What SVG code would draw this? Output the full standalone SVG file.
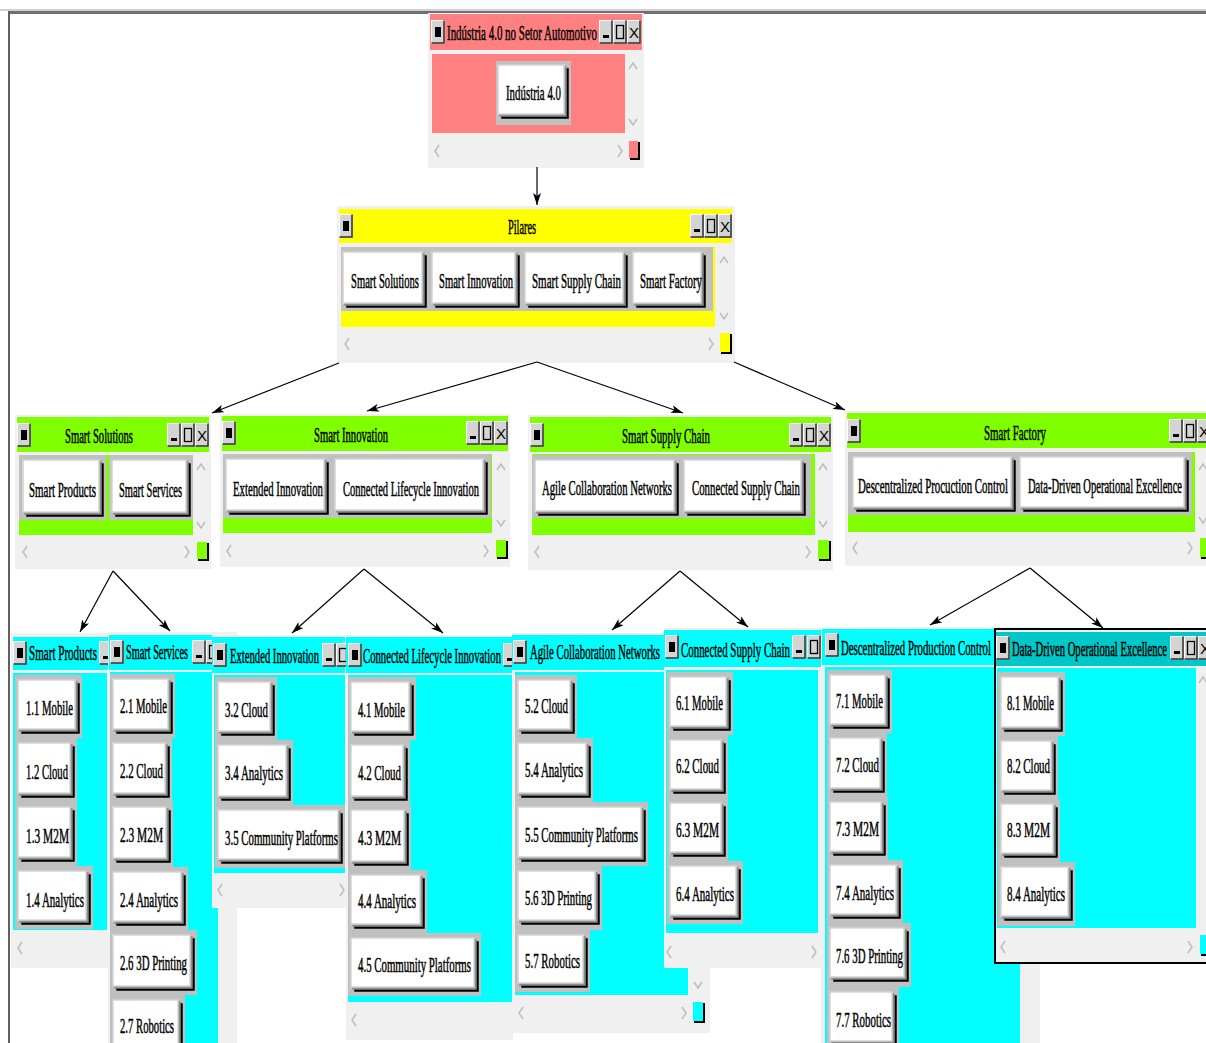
<svg xmlns="http://www.w3.org/2000/svg" xmlns:xlink="http://www.w3.org/1999/xlink" width="1206" height="1043" viewBox="0 0 1206 1043">
<style>
.fr{fill:#f0f0f0}
.pk{fill:#ff8080}
.yl{fill:#ffff00}
.gr{fill:#80ff00}
.cy{fill:#00ffff}
.cya{fill:#00c8c8}
.pn{fill:#c0c0c0}
.bt{fill:#fff;stroke:#d4d4d4;stroke-width:1.5;filter:url(#bsh)}
.sa{fill:none;stroke:#bcbcbc;stroke-width:1.5}
.t{font-family:"Liberation Serif","Times New Roman",serif;font-size:21px;fill:#000;stroke:#000;stroke-width:0.5}
.sq{fill:#000}
#connectors line{stroke:#000;stroke-width:1.2;marker-end:url(#ah)}
</style>
<defs>
<filter id="bsh" x="-10%" y="-10%" width="130%" height="140%" color-interpolation-filters="sRGB">
<feFlood flood-color="#000"/>
<feComposite in2="SourceAlpha" operator="in"/>
<feOffset dx="4" dy="4" result="k"/>
<feFlood flood-color="#8c8c8c"/>
<feComposite in2="SourceAlpha" operator="in"/>
<feOffset dx="2" dy="2" result="g"/>
<feMerge><feMergeNode in="k"/><feMergeNode in="g"/><feMergeNode in="SourceGraphic"/></feMerge>
</filter>
<marker id="ah" viewBox="0 0 12 8" refX="12" refY="4" markerWidth="12" markerHeight="8" orient="auto" markerUnits="userSpaceOnUse">
<path d="M0,0 L12,4 L0,8 L3,4 z" fill="#000"/>
</marker>
<g id="bb"><rect width="14" height="24" fill="#d4d4d4"/><path d="M0.5 23.5V0.5H13" stroke="#fff" fill="none"/><path d="M0.5 23H13V0.5" stroke="#303030" stroke-width="1.5" fill="none"/></g>
<g id="bL"><use href="#bb"/><rect x="4" y="7" width="6" height="10" fill="#000"/></g>
<g id="bMin"><use href="#bb"/><rect x="4" y="15" width="6" height="3" fill="#000"/></g>
<g id="bMax"><use href="#bb"/><rect x="3.5" y="5.5" width="7" height="13" fill="none" stroke="#000" stroke-width="1.3"/></g>
<g id="bX"><use href="#bb"/><text x="7" y="18" text-anchor="middle" font-family="Liberation Sans, Arial, sans-serif" font-size="15" fill="#000">X</text></g>
</defs>
<rect width="1206" height="1043" fill="#fff"/>
<g id="frame">
<rect x="0" y="9" width="1206" height="2" fill="#d0d0d0"/>
<rect x="8" y="11" width="1198" height="3" fill="#707070"/>
<rect x="8" y="11" width="2" height="1032" fill="#606060"/>
</g>

<g id="n-industria">
<rect class="fr" x="428" y="13" width="216" height="155"/>
<rect class="pk" x="430" y="14" width="212" height="36"/>
<use href="#bL" x="431" y="20"/>
<text class="t" transform="matrix(0.5 0 0 1 447 40)" textLength="300" lengthAdjust="spacingAndGlyphs">Indústria 4.0 no Setor Automotivo</text>
<use href="#bMin" x="599" y="20"/><use href="#bMax" x="613" y="20"/><use href="#bX" x="627" y="20"/>
<rect class="pk" x="432" y="54" width="193" height="79"/>
<rect class="pn" x="496" y="61" width="75" height="64"/>
<rect class="bt" x="498" y="65" width="66" height="49"/>
<text class="t" transform="matrix(0.5 0 0 1 506 100)" textLength="110" lengthAdjust="spacingAndGlyphs">Indústria 4.0</text>
<polyline class="sa" points="629,69 633,63 637,69"/>
<polyline class="sa" points="629,119 633,125 637,119"/>
<polyline class="sa" points="439,145 435,151 439,157"/>
<polyline class="sa" points="618,145 622,151 618,157"/>
<rect class="sq" x="630" y="142" width="10" height="18"/><rect class="pk" x="629" y="141" width="9" height="17"/>
</g>

<g id="n-pilares">
<rect class="fr" x="337" y="206" width="398" height="157"/>
<rect class="yl" x="339" y="209" width="393" height="34"/>
<use href="#bL" x="339" y="214"/>
<text class="t" transform="matrix(0.5 0 0 1 508 234)" textLength="56" lengthAdjust="spacingAndGlyphs">Pilares</text>
<use href="#bMin" x="690" y="214"/><use href="#bMax" x="704" y="214"/><use href="#bX" x="718" y="214"/>
<rect class="yl" x="341" y="247" width="374" height="80"/>
<rect class="pn" x="341" y="247" width="372" height="64"/>
<rect class="bt" x="343" y="252" width="79" height="51"/>
<rect class="bt" x="432" y="252" width="83" height="51"/>
<rect class="bt" x="525" y="252" width="98" height="51"/>
<rect class="bt" x="633" y="252" width="68" height="51"/>
<text class="t" transform="matrix(0.5 0 0 1 351 288)" textLength="136" lengthAdjust="spacingAndGlyphs">Smart Solutions</text>
<text class="t" transform="matrix(0.5 0 0 1 439 288)" textLength="148" lengthAdjust="spacingAndGlyphs">Smart Innovation</text>
<text class="t" transform="matrix(0.5 0 0 1 532 288)" textLength="178" lengthAdjust="spacingAndGlyphs">Smart Supply Chain</text>
<text class="t" transform="matrix(0.5 0 0 1 640 288)" textLength="124" lengthAdjust="spacingAndGlyphs">Smart Factory</text>
<polyline class="sa" points="720,263 724,257 728,263"/>
<polyline class="sa" points="720,313 724,319 728,313"/>
<polyline class="sa" points="349,338 345,344 349,350"/>
<polyline class="sa" points="709,338 713,344 709,350"/>
<rect class="sq" x="721" y="334" width="11" height="20"/><rect class="yl" x="720" y="333" width="10" height="19"/>
</g>

<g id="n-smart-solutions">
<rect class="fr" x="15" y="415" width="196" height="154"/>
<rect class="gr" x="17" y="417" width="192" height="35"/>
<use href="#bL" x="17" y="423"/>
<text class="t" transform="matrix(0.5 0 0 1 65 443)" textLength="136" lengthAdjust="spacingAndGlyphs">Smart Solutions</text>
<use href="#bMin" x="167" y="423"/><use href="#bMax" x="181" y="423"/><use href="#bX" x="195" y="423"/>
<rect class="gr" x="19" y="455" width="174" height="80"/>
<rect class="pn" x="19" y="455" width="87" height="65"/>
<rect class="pn" x="109" y="455" width="84" height="65"/>
<rect class="bt" x="23" y="460" width="76" height="52"/>
<rect class="bt" x="112" y="460" width="74" height="52"/>
<text class="t" transform="matrix(0.5 0 0 1 29 497)" textLength="134" lengthAdjust="spacingAndGlyphs">Smart Products</text>
<text class="t" transform="matrix(0.5 0 0 1 119 497)" textLength="126" lengthAdjust="spacingAndGlyphs">Smart Services</text>
<polyline class="sa" points="197,470 201,464 205,470"/>
<polyline class="sa" points="197,522 201,528 205,522"/>
<polyline class="sa" points="27,546 23,552 27,558"/>
<polyline class="sa" points="185,546 189,552 185,558"/>
<rect class="sq" x="198" y="543" width="11" height="18"/><rect class="gr" x="197" y="542" width="10" height="17"/>
</g>

<g id="n-smart-innovation">
<rect class="fr" x="220" y="414" width="290" height="153"/>
<rect class="gr" x="222" y="416" width="286" height="35"/>
<use href="#bL" x="222" y="421"/>
<text class="t" transform="matrix(0.5 0 0 1 314 442)" textLength="148" lengthAdjust="spacingAndGlyphs">Smart Innovation</text>
<use href="#bMin" x="466" y="421"/><use href="#bMax" x="480" y="421"/><use href="#bX" x="494" y="421"/>
<rect class="gr" x="223" y="454" width="269" height="79"/>
<rect class="pn" x="223" y="454" width="268" height="64"/>
<rect class="bt" x="226" y="459" width="98" height="51"/>
<rect class="bt" x="335" y="459" width="148" height="51"/>
<text class="t" transform="matrix(0.5 0 0 1 233 496)" textLength="180" lengthAdjust="spacingAndGlyphs">Extended Innovation</text>
<text class="t" transform="matrix(0.5 0 0 1 343 496)" textLength="272" lengthAdjust="spacingAndGlyphs">Connected Lifecycle Innovation</text>
<polyline class="sa" points="497,470 501,464 505,470"/>
<polyline class="sa" points="497,520 501,526 505,520"/>
<polyline class="sa" points="231,545 227,551 231,557"/>
<polyline class="sa" points="484,545 488,551 484,557"/>
<rect class="sq" x="497" y="541" width="11" height="18"/><rect class="gr" x="496" y="540" width="10" height="17"/>
</g>

<g id="n-smart-supply-chain">
<rect class="fr" x="528" y="415" width="305" height="155"/>
<rect class="gr" x="530" y="417" width="301" height="35"/>
<use href="#bL" x="530" y="423"/>
<text class="t" transform="matrix(0.5 0 0 1 622 443)" textLength="176" lengthAdjust="spacingAndGlyphs">Smart Supply Chain</text>
<use href="#bMin" x="789" y="423"/><use href="#bMax" x="803" y="423"/><use href="#bX" x="817" y="423"/>
<rect class="gr" x="532" y="454" width="283" height="81"/>
<rect class="pn" x="532" y="455" width="279" height="63"/>
<rect class="bt" x="535" y="460" width="139" height="51"/>
<rect class="bt" x="684" y="460" width="117" height="51"/>
<text class="t" transform="matrix(0.5 0 0 1 542 495)" textLength="260" lengthAdjust="spacingAndGlyphs">Agile Collaboration Networks</text>
<text class="t" transform="matrix(0.5 0 0 1 692 495)" textLength="216" lengthAdjust="spacingAndGlyphs">Connected Supply Chain</text>
<polyline class="sa" points="819,470 823,464 827,470"/>
<polyline class="sa" points="819,521 823,527 827,521"/>
<polyline class="sa" points="539,546 535,552 539,558"/>
<polyline class="sa" points="806,546 810,552 806,558"/>
<rect class="sq" x="819" y="541" width="12" height="20"/><rect class="gr" x="818" y="540" width="11" height="19"/>
</g>

<g id="n-smart-factory">
<rect class="fr" x="845" y="411" width="361" height="155"/>
<rect class="gr" x="847" y="413" width="359" height="35"/>
<use href="#bL" x="847" y="419"/>
<text class="t" transform="matrix(0.5 0 0 1 984 440)" textLength="124" lengthAdjust="spacingAndGlyphs">Smart Factory</text>
<use href="#bMin" x="1169" y="419"/><use href="#bMax" x="1183" y="419"/><use href="#bX" x="1197" y="419"/>
<rect class="gr" x="848" y="452" width="347" height="80"/>
<rect class="pn" x="848" y="452" width="344" height="63"/>
<rect class="bt" x="853" y="457" width="158" height="50"/>
<rect class="bt" x="1020" y="457" width="164" height="50"/>
<text class="t" transform="matrix(0.5 0 0 1 858 493)" textLength="300" lengthAdjust="spacingAndGlyphs">Descentralized Procuction Control</text>
<text class="t" transform="matrix(0.5 0 0 1 1028 493)" textLength="308" lengthAdjust="spacingAndGlyphs">Data-Driven Operational Excellence</text>
<polyline class="sa" points="1199,470 1203,464 1207,470"/>
<polyline class="sa" points="1199,517 1203,523 1207,517"/>
<polyline class="sa" points="857,542 853,548 857,554"/>
<polyline class="sa" points="1188,542 1192,548 1188,554"/>
<rect class="sq" x="1201" y="539" width="6" height="20"/><rect class="gr" x="1200" y="538" width="6" height="19"/>
</g>

<g id="n-smart-products">
<rect class="fr" x="11" y="633" width="97" height="335"/>
<rect class="cy" x="13" y="637" width="95" height="33"/>
<use href="#bL" x="13" y="641"/>
<text class="t" transform="matrix(0.5 0 0 1 29 660)" textLength="136" lengthAdjust="spacingAndGlyphs">Smart Products</text>
<use href="#bMin" x="99" y="641"/>
<rect class="cy" x="13" y="673" width="94" height="257"/>
<rect class="pn" x="15" y="675" width="67" height="63"/>
<rect class="pn" x="15" y="738" width="62" height="64"/>
<rect class="pn" x="15" y="802" width="62" height="64"/>
<rect class="pn" x="15" y="866" width="78" height="63"/>
<rect class="bt" x="18" y="680" width="57" height="49"/>
<rect class="bt" x="18" y="743" width="52" height="50"/>
<rect class="bt" x="18" y="807" width="52" height="50"/>
<rect class="bt" x="18" y="871" width="68" height="49"/>
<text class="t" transform="matrix(0.5 0 0 1 26 715)" textLength="94" lengthAdjust="spacingAndGlyphs">1.1 Mobile</text>
<text class="t" transform="matrix(0.5 0 0 1 26 779)" textLength="84" lengthAdjust="spacingAndGlyphs">1.2 Cloud</text>
<text class="t" transform="matrix(0.5 0 0 1 26 843)" textLength="86" lengthAdjust="spacingAndGlyphs">1.3 M2M</text>
<text class="t" transform="matrix(0.5 0 0 1 26 907)" textLength="116" lengthAdjust="spacingAndGlyphs">1.4 Analytics</text>
<polyline class="sa" points="22,942 18,948 22,954"/>
</g>

<g id="n-smart-services">
<rect class="fr" x="108" y="632" width="129" height="411"/>
<rect class="cy" x="109" y="635" width="128" height="35"/>
<use href="#bL" x="110" y="640"/>
<text class="t" transform="matrix(0.5 0 0 1 126 659)" textLength="124" lengthAdjust="spacingAndGlyphs">Smart Services</text>
<use href="#bMin" x="192" y="640"/><use href="#bMax" x="206" y="640"/>
<rect class="cy" x="110" y="672" width="108" height="371"/>
<rect class="pn" x="110" y="674" width="65" height="64"/>
<rect class="pn" x="110" y="738" width="62" height="64"/>
<rect class="pn" x="110" y="802" width="63" height="65"/>
<rect class="pn" x="110" y="867" width="78" height="63"/>
<rect class="pn" x="110" y="930" width="87" height="65"/>
<rect class="pn" x="110" y="995" width="75" height="60"/>
<rect class="bt" x="113" y="679" width="55" height="50"/>
<rect class="bt" x="113" y="743" width="52" height="50"/>
<rect class="bt" x="113" y="807" width="53" height="51"/>
<rect class="bt" x="113" y="872" width="68" height="49"/>
<rect class="bt" x="113" y="935" width="77" height="51"/>
<rect class="bt" x="113" y="1000" width="65" height="49"/>
<text class="t" transform="matrix(0.5 0 0 1 120 713)" textLength="94" lengthAdjust="spacingAndGlyphs">2.1 Mobile</text>
<text class="t" transform="matrix(0.5 0 0 1 120 778)" textLength="86" lengthAdjust="spacingAndGlyphs">2.2 Cloud</text>
<text class="t" transform="matrix(0.5 0 0 1 120 842)" textLength="86" lengthAdjust="spacingAndGlyphs">2.3 M2M</text>
<text class="t" transform="matrix(0.5 0 0 1 120 907)" textLength="116" lengthAdjust="spacingAndGlyphs">2.4 Analytics</text>
<text class="t" transform="matrix(0.5 0 0 1 120 970)" textLength="134" lengthAdjust="spacingAndGlyphs">2.6 3D Printing</text>
<text class="t" transform="matrix(0.5 0 0 1 120 1033)" textLength="108" lengthAdjust="spacingAndGlyphs">2.7 Robotics</text>
</g>

<g id="n-extended-innovation">
<rect class="fr" x="212" y="635" width="134" height="273"/>
<rect class="cy" x="212" y="637" width="133" height="36"/>
<use href="#bL" x="213" y="643"/>
<text class="t" transform="matrix(0.5 0 0 1 230 663)" textLength="178" lengthAdjust="spacingAndGlyphs">Extended Innovation</text>
<use href="#bMin" x="322" y="643"/><use href="#bMax" x="336" y="643"/>
<rect class="cy" x="214" y="675" width="131" height="198"/>
<rect class="pn" x="215" y="677" width="62" height="63"/>
<rect class="pn" x="215" y="740" width="78" height="65"/>
<rect class="pn" x="215" y="805" width="130" height="63"/>
<rect class="bt" x="218" y="682" width="52" height="49"/>
<rect class="bt" x="218" y="745" width="68" height="51"/>
<rect class="bt" x="218" y="810" width="120" height="49"/>
<text class="t" transform="matrix(0.5 0 0 1 225 717)" textLength="86" lengthAdjust="spacingAndGlyphs">3.2 Cloud</text>
<text class="t" transform="matrix(0.5 0 0 1 225 780)" textLength="116" lengthAdjust="spacingAndGlyphs">3.4 Analytics</text>
<text class="t" transform="matrix(0.5 0 0 1 225 845)" textLength="226" lengthAdjust="spacingAndGlyphs">3.5 Community Platforms</text>
<polyline class="sa" points="222,884 218,890 222,896"/>
<polyline class="sa" points="340,884 344,890 340,896"/>
</g>

<g id="n-connected-lifecycle-innovation">
<rect class="fr" x="346" y="635" width="167" height="405"/>
<rect class="cy" x="346" y="637" width="166" height="36"/>
<use href="#bL" x="348" y="643"/>
<text class="t" transform="matrix(0.5 0 0 1 363 663)" textLength="276" lengthAdjust="spacingAndGlyphs">Connected Lifecycle Innovation</text>
<use href="#bMin" x="503" y="643"/>
<rect class="cy" x="348" y="675" width="164" height="327"/>
<rect class="pn" x="348" y="677" width="68" height="63"/>
<rect class="pn" x="348" y="740" width="62" height="65"/>
<rect class="pn" x="348" y="805" width="63" height="65"/>
<rect class="pn" x="348" y="870" width="79" height="63"/>
<rect class="pn" x="348" y="933" width="133" height="63"/>
<rect class="bt" x="351" y="682" width="58" height="49"/>
<rect class="bt" x="351" y="745" width="52" height="51"/>
<rect class="bt" x="351" y="810" width="53" height="51"/>
<rect class="bt" x="351" y="875" width="69" height="49"/>
<rect class="bt" x="351" y="938" width="123" height="49"/>
<text class="t" transform="matrix(0.5 0 0 1 358 717)" textLength="94" lengthAdjust="spacingAndGlyphs">4.1 Mobile</text>
<text class="t" transform="matrix(0.5 0 0 1 358 780)" textLength="86" lengthAdjust="spacingAndGlyphs">4.2 Cloud</text>
<text class="t" transform="matrix(0.5 0 0 1 358 845)" textLength="86" lengthAdjust="spacingAndGlyphs">4.3 M2M</text>
<text class="t" transform="matrix(0.5 0 0 1 358 908)" textLength="116" lengthAdjust="spacingAndGlyphs">4.4 Analytics</text>
<text class="t" transform="matrix(0.5 0 0 1 358 972)" textLength="226" lengthAdjust="spacingAndGlyphs">4.5 Community Platforms</text>
<polyline class="sa" points="356,1014 352,1020 356,1026"/>
</g>

<g id="n-agile-collaboration-networks">
<rect class="fr" x="512" y="633" width="198" height="400"/>
<rect class="cy" x="512" y="635" width="196" height="35"/>
<use href="#bL" x="513" y="640"/>
<text class="t" transform="matrix(0.5 0 0 1 530 659)" textLength="260" lengthAdjust="spacingAndGlyphs">Agile Collaboration Networks</text>
<rect class="cy" x="515" y="672" width="173" height="323"/>
<rect class="pn" x="515" y="675" width="62" height="63"/>
<rect class="pn" x="515" y="738" width="78" height="64"/>
<rect class="pn" x="515" y="802" width="133" height="64"/>
<rect class="pn" x="515" y="866" width="87" height="64"/>
<rect class="pn" x="515" y="930" width="75" height="62"/>
<rect class="bt" x="518" y="680" width="52" height="49"/>
<rect class="bt" x="518" y="743" width="68" height="50"/>
<rect class="bt" x="518" y="807" width="123" height="50"/>
<rect class="bt" x="518" y="871" width="77" height="49"/>
<rect class="bt" x="518" y="935" width="65" height="48"/>
<text class="t" transform="matrix(0.5 0 0 1 525 713)" textLength="86" lengthAdjust="spacingAndGlyphs">5.2 Cloud</text>
<text class="t" transform="matrix(0.5 0 0 1 525 777)" textLength="116" lengthAdjust="spacingAndGlyphs">5.4 Analytics</text>
<text class="t" transform="matrix(0.5 0 0 1 525 842)" textLength="226" lengthAdjust="spacingAndGlyphs">5.5 Community Platforms</text>
<text class="t" transform="matrix(0.5 0 0 1 525 905)" textLength="134" lengthAdjust="spacingAndGlyphs">5.6 3D Printing</text>
<text class="t" transform="matrix(0.5 0 0 1 525 968)" textLength="110" lengthAdjust="spacingAndGlyphs">5.7 Robotics</text>
<polyline class="sa" points="694,982 698,988 702,982"/>
<polyline class="sa" points="523,1007 519,1013 523,1019"/>
<polyline class="sa" points="682,1007 686,1013 682,1019"/>
<rect class="sq" x="694" y="1003" width="11" height="20"/><rect class="cy" x="693" y="1002" width="10" height="19"/>
</g>

<g id="n-connected-supply-chain">
<rect class="fr" x="664" y="628" width="159" height="340"/>
<rect class="cy" x="664" y="630" width="158" height="37"/>
<use href="#bL" x="665" y="635"/>
<text class="t" transform="matrix(0.5 0 0 1 681 657)" textLength="218" lengthAdjust="spacingAndGlyphs">Connected Supply Chain</text>
<use href="#bMin" x="792" y="635"/><use href="#bMax" x="807" y="635"/>
<rect class="cy" x="666" y="670" width="152" height="263"/>
<rect class="pn" x="667" y="672" width="66" height="63"/>
<rect class="pn" x="667" y="735" width="61" height="63"/>
<rect class="pn" x="667" y="798" width="61" height="63"/>
<rect class="pn" x="667" y="861" width="76" height="63"/>
<rect class="bt" x="670" y="677" width="56" height="49"/>
<rect class="bt" x="670" y="740" width="51" height="49"/>
<rect class="bt" x="670" y="803" width="51" height="49"/>
<rect class="bt" x="670" y="866" width="66" height="49"/>
<text class="t" transform="matrix(0.5 0 0 1 676 710)" textLength="94" lengthAdjust="spacingAndGlyphs">6.1 Mobile</text>
<text class="t" transform="matrix(0.5 0 0 1 676 773)" textLength="86" lengthAdjust="spacingAndGlyphs">6.2 Cloud</text>
<text class="t" transform="matrix(0.5 0 0 1 676 837)" textLength="86" lengthAdjust="spacingAndGlyphs">6.3 M2M</text>
<text class="t" transform="matrix(0.5 0 0 1 676 901)" textLength="116" lengthAdjust="spacingAndGlyphs">6.4 Analytics</text>
<polyline class="sa" points="671,946 667,952 671,958"/>
<polyline class="sa" points="812,946 816,952 812,958"/>
</g>

<g id="n-descentralized-production-control">
<rect class="fr" x="821" y="627" width="219" height="416"/>
<rect class="cy" x="822" y="629" width="198" height="36"/>
<use href="#bL" x="825" y="633"/>
<text class="t" transform="matrix(0.5 0 0 1 841 655)" textLength="300" lengthAdjust="spacingAndGlyphs">Descentralized Production Control</text>
<rect class="cy" x="825" y="667" width="195" height="376"/>
<rect class="pn" x="827" y="670" width="65" height="63"/>
<rect class="pn" x="827" y="733" width="60" height="64"/>
<rect class="pn" x="827" y="797" width="61" height="63"/>
<rect class="pn" x="827" y="860" width="76" height="63"/>
<rect class="pn" x="827" y="923" width="84" height="64"/>
<rect class="pn" x="827" y="987" width="72" height="60"/>
<rect class="bt" x="830" y="675" width="55" height="49"/>
<rect class="bt" x="830" y="738" width="50" height="50"/>
<rect class="bt" x="830" y="802" width="51" height="49"/>
<rect class="bt" x="830" y="865" width="66" height="49"/>
<rect class="bt" x="830" y="928" width="74" height="49"/>
<rect class="bt" x="830" y="992" width="62" height="49"/>
<text class="t" transform="matrix(0.5 0 0 1 836 708)" textLength="94" lengthAdjust="spacingAndGlyphs">7.1 Mobile</text>
<text class="t" transform="matrix(0.5 0 0 1 836 772)" textLength="86" lengthAdjust="spacingAndGlyphs">7.2 Cloud</text>
<text class="t" transform="matrix(0.5 0 0 1 836 836)" textLength="86" lengthAdjust="spacingAndGlyphs">7.3 M2M</text>
<text class="t" transform="matrix(0.5 0 0 1 836 900)" textLength="116" lengthAdjust="spacingAndGlyphs">7.4 Analytics</text>
<text class="t" transform="matrix(0.5 0 0 1 836 963)" textLength="134" lengthAdjust="spacingAndGlyphs">7.6 3D Printing</text>
<text class="t" transform="matrix(0.5 0 0 1 836 1027)" textLength="110" lengthAdjust="spacingAndGlyphs">7.7 Robotics</text>
</g>

<g id="n-data-driven-operational-excellence">
<rect x="995" y="629" width="213" height="334" fill="#f0f0f0" stroke="#000" stroke-width="2"/>
<rect class="cya" x="996" y="632" width="210" height="34"/>
<use href="#bL" x="996" y="636"/>
<text class="t" transform="matrix(0.5 0 0 1 1012 656)" textLength="310" lengthAdjust="spacingAndGlyphs">Data-Driven Operational Excellence</text>
<use href="#bMin" x="1170" y="636"/><use href="#bMax" x="1184" y="636"/><use href="#bX" x="1198" y="636"/>
<rect class="cy" x="997" y="668" width="199" height="260"/>
<rect class="pn" x="998" y="672" width="67" height="64"/>
<rect class="pn" x="998" y="736" width="60" height="63"/>
<rect class="pn" x="998" y="799" width="62" height="63"/>
<rect class="pn" x="998" y="862" width="77" height="64"/>
<rect class="bt" x="1001" y="677" width="57" height="50"/>
<rect class="bt" x="1001" y="741" width="50" height="49"/>
<rect class="bt" x="1001" y="804" width="52" height="49"/>
<rect class="bt" x="1001" y="867" width="67" height="49"/>
<text class="t" transform="matrix(0.5 0 0 1 1007 710)" textLength="94" lengthAdjust="spacingAndGlyphs">8.1 Mobile</text>
<text class="t" transform="matrix(0.5 0 0 1 1007 773)" textLength="86" lengthAdjust="spacingAndGlyphs">8.2 Cloud</text>
<text class="t" transform="matrix(0.5 0 0 1 1007 837)" textLength="86" lengthAdjust="spacingAndGlyphs">8.3 M2M</text>
<text class="t" transform="matrix(0.5 0 0 1 1007 901)" textLength="116" lengthAdjust="spacingAndGlyphs">8.4 Analytics</text>
<polyline class="sa" points="1199,683 1203,677 1207,683"/>
<polyline class="sa" points="1005,941 1001,947 1005,953"/>
<polyline class="sa" points="1188,941 1192,947 1188,953"/>
<rect class="sq" x="1201" y="936" width="6" height="20"/><rect class="cy" x="1200" y="935" width="6" height="19"/>
</g>

<g id="connectors">
<line x1="537" y1="167" x2="537" y2="205"/>
<line x1="339" y1="363" x2="212" y2="413"/>
<line x1="537" y1="362" x2="367" y2="411"/>
<line x1="537" y1="362" x2="683" y2="413"/>
<line x1="734" y1="362" x2="845" y2="410"/>
<line x1="113" y1="571" x2="80" y2="632"/>
<line x1="113" y1="571" x2="170" y2="631"/>
<line x1="364" y1="569" x2="292" y2="633"/>
<line x1="364" y1="569" x2="443" y2="633"/>
<line x1="680" y1="571" x2="612" y2="630"/>
<line x1="680" y1="571" x2="748" y2="627"/>
<line x1="1030" y1="568" x2="930" y2="625"/>
<line x1="1030" y1="568" x2="1103" y2="628"/>
</g>
</svg>
